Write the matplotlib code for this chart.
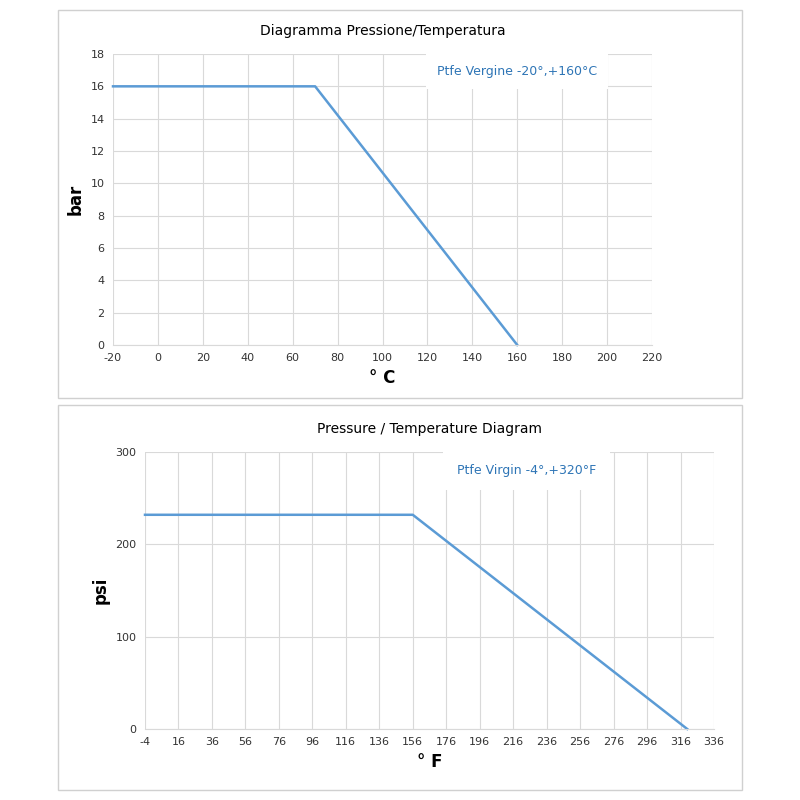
import matplotlib.pyplot as plt
from matplotlib.patches import Rectangle

plt.rcParams["axes.unicode_minus"] = False

# top chart (Celsius / bar)
c_temp = [-20, 70, 160]
c_bar = [16, 16, 0]
c_xticks = list(range(-20, 221, 20))
c_yticks = list(range(0, 19, 2))

# bottom chart (Fahrenheit / psi)
f_temp = [-4, 156, 320]
f_psi = [232, 232, 0]
f_xticks = list(range(-4, 337, 20))
f_yticks = [0, 100, 200, 300]

line_col = "#5b9bd5"
grid_col = "#d9d9d9"
text_col = "#2e75b6"

W = H = 800
fig = plt.figure(figsize=(8, 8), dpi=100)


def px(x0, y0, x1, y1):
    return [x0 / W, 1 - y1 / H, (x1 - x0) / W, (y1 - y0) / H]


for box in [(58, 10, 742, 398), (58, 405, 742, 790)]:
    fig.patches.append(Rectangle((box[0] / W, 1 - box[3] / H), (box[2] - box[0]) / W,
                                 (box[3] - box[1]) / H, transform=fig.transFigure,
                                 fill=False, ec="#d0d0d0", lw=1))


def style(ax):
    ax.grid(True, color=grid_col, lw=0.8)
    ax.set_axisbelow(True)
    for s in ax.spines.values():
        s.set_visible(False)
    ax.spines["bottom"].set_visible(True)
    ax.spines["bottom"].set_color(grid_col)
    ax.tick_params(length=0, labelsize=8, colors="#333333", pad=6)


ax1 = fig.add_axes(px(113, 54, 652, 345))
ax1.plot(c_temp, c_bar, color=line_col, lw=1.8, clip_on=False)
ax1.set_xlim(-20, 220)
ax1.set_ylim(0, 18)
ax1.set_xticks(c_xticks)
ax1.set_yticks(c_yticks)
style(ax1)
ax1.set_ylabel("bar", fontsize=12, fontweight="bold")
ax1.set_xlabel("° C", fontsize=12, fontweight="bold")
ax1.set_title("Diagramma Pressione/Temperatura", fontsize=10, pad=14)
ax1.text(0.75, 0.94, "Ptfe Vergine -20°,+160°C", transform=ax1.transAxes, ha="center",
         va="center", fontsize=9, color=text_col,
         bbox=dict(fc="white", ec="none", pad=8))

ax2 = fig.add_axes(px(145, 452, 714, 729))
ax2.plot(f_temp, f_psi, color=line_col, lw=1.8, clip_on=False)
ax2.set_xlim(-4, 336)
ax2.set_ylim(0, 300)
ax2.set_xticks(f_xticks)
ax2.set_yticks(f_yticks)
style(ax2)
ax2.set_ylabel("psi", fontsize=12, fontweight="bold")
ax2.set_xlabel("° F", fontsize=12, fontweight="bold")
ax2.set_title("Pressure / Temperature Diagram", fontsize=10, pad=14)
ax2.text(0.67, 0.935, "Ptfe Virgin -4°,+320°F", transform=ax2.transAxes, ha="center",
         va="center", fontsize=9, color=text_col,
         bbox=dict(fc="white", ec="none", pad=10))

fig.savefig("out.png", dpi=100, facecolor="white")
